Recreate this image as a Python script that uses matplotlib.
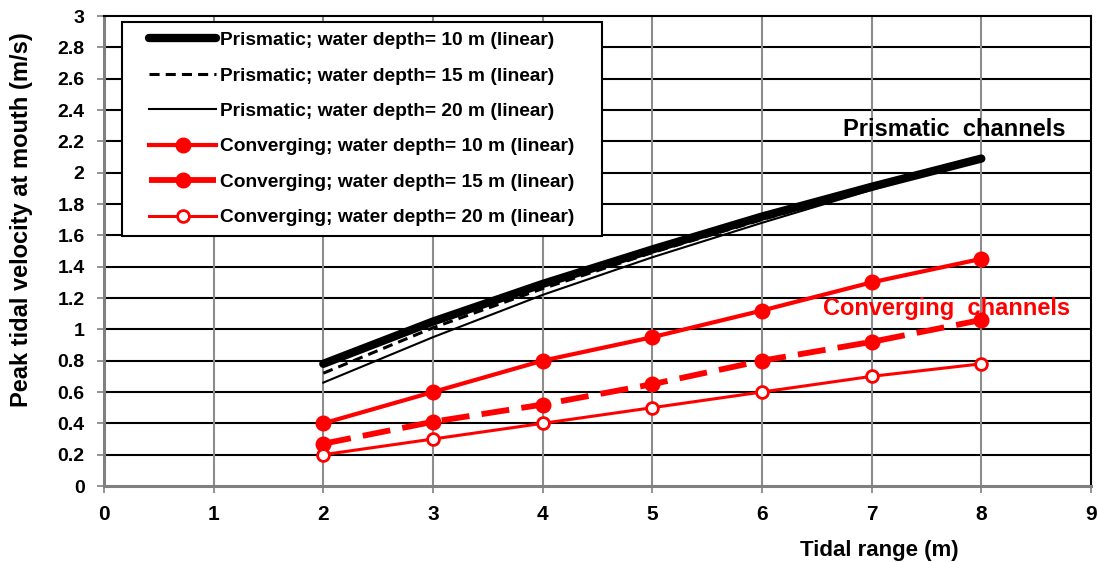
import numpy as np
from matplotlib import pyplot as plt
from matplotlib.legend_handler import HandlerLine2D

plt.rcParams['font.family'] = ['Liberation Sans', 'DejaVu Sans']
plt.rcParams['font.weight'] = 'bold'

tidal_range = [2, 3, 4, 5, 6, 7, 8]

# prismatic channels
pris_10 = [0.78, 1.05, 1.29, 1.51, 1.72, 1.91, 2.09]
pris_15 = [0.72, 1.01, 1.26, 1.49, 1.70, 1.90, 2.09]
pris_20 = [0.66, 0.95, 1.22, 1.46, 1.68, 1.89, 2.09]

# converging channels
conv_10 = [0.40, 0.60, 0.80, 0.95, 1.12, 1.30, 1.45]
conv_15 = [0.27, 0.41, 0.52, 0.65, 0.80, 0.92, 1.06]
conv_20 = [0.20, 0.30, 0.40, 0.50, 0.60, 0.70, 0.78]

labels = ["Prismatic; water depth= 10 m (linear)",
          "Prismatic; water depth= 15 m (linear)",
          "Prismatic; water depth= 20 m (linear)",
          "Converging; water depth= 10 m (linear)",
          "Converging; water depth= 15 m (linear)",
          "Converging; water depth= 20 m (linear)"]

red = '#ff0000'

fig = plt.figure(figsize=(10.98, 5.62), dpi=100)
ax = fig.add_axes([0.0947, 0.1352, 0.8989, 0.8363])

ax.plot(tidal_range, pris_10, color='black', lw=6, solid_capstyle='round', label=labels[0])
ax.plot(tidal_range, pris_15, color='black', lw=2.2, ls=(0, (3.3, 2)), label=labels[1])
ax.plot(tidal_range, pris_20, color='black', lw=1.5, label=labels[2])
ax.plot(tidal_range, conv_10, color=red, lw=3, marker='o', ms=10.5, label=labels[3])
ax.plot(tidal_range, conv_15, color=red, lw=4.2, ls=(0, (4.8, 2.1)), marker='o', ms=10.5,
        label=labels[4])
ax.plot(tidal_range, conv_20, color=red, lw=2.2, marker='o', ms=8.5, mfc='white',
        mec=red, mew=2, label=labels[5])

ax.set_xlim(0, 9)
ax.set_ylim(0, 3)
ax.set_xticks(np.arange(0, 10, 1))
yticks = np.round(np.arange(0, 3.01, 0.2), 1)
ax.set_yticks(yticks)
ax.set_yticklabels([f"{v:g}" for v in yticks])

for y in yticks[1:-1]:
    ax.axhline(y, color='black', lw=1.5, zorder=0)
for x in range(1, 9):
    ax.axvline(x, color='#8c8c8c', lw=1.5, zorder=0)

for side in ['top', 'right']:
    ax.spines[side].set_color('black')
    ax.spines[side].set_linewidth(1.5)
for side in ['left', 'bottom']:
    ax.spines[side].set_color('#808080')
    ax.spines[side].set_linewidth(2.2)

ax.tick_params(axis='both', colors='#808080', width=1.2, length=5, labelcolor='black')
ax.tick_params(axis='x', pad=9, labelsize=15)
ax.tick_params(axis='y', pad=9, labelsize=14)
for t in ax.get_xticklabels() + ax.get_yticklabels():
    t.set_fontweight('bold')

ax.set_ylabel("Peak tidal velocity at mouth (m/s)", fontsize=17, fontweight='bold')
ax.yaxis.set_label_coords(-0.072, 0.566)
ax.set_xlabel("Tidal range (m)", fontsize=16, fontweight='bold')
ax.xaxis.set_label_coords(0.786, -0.115)

ax.text(7.75, 2.233, "Prismatic  channels", fontsize=17, fontweight='bold',
        color='black', ha='center', va='baseline')
ax.text(7.68, 1.09, "Converging  channels", fontsize=17, fontweight='bold',
        color=red, ha='center', va='baseline')

# legend box stretched to the reference width, handles pushed right
handles, _ = ax.get_legend_handles_labels()
leg = ax.legend(handles, labels, loc='upper left',
                bbox_to_anchor=(0.0182, 0.0, 0.4863, 0.987), mode='expand',
                fontsize=13.8, handlelength=4.4, labelspacing=0.94, borderpad=0.5,
                handletextpad=0.22, borderaxespad=0, fancybox=False, framealpha=1,
                edgecolor='black',
                handler_map={h: HandlerLine2D(xpad=0.92) for h in handles})
leg.get_frame().set_linewidth(1.5)
for t in leg.get_texts():
    t.set_fontweight('bold')

fig.savefig('out.png', dpi=100)
